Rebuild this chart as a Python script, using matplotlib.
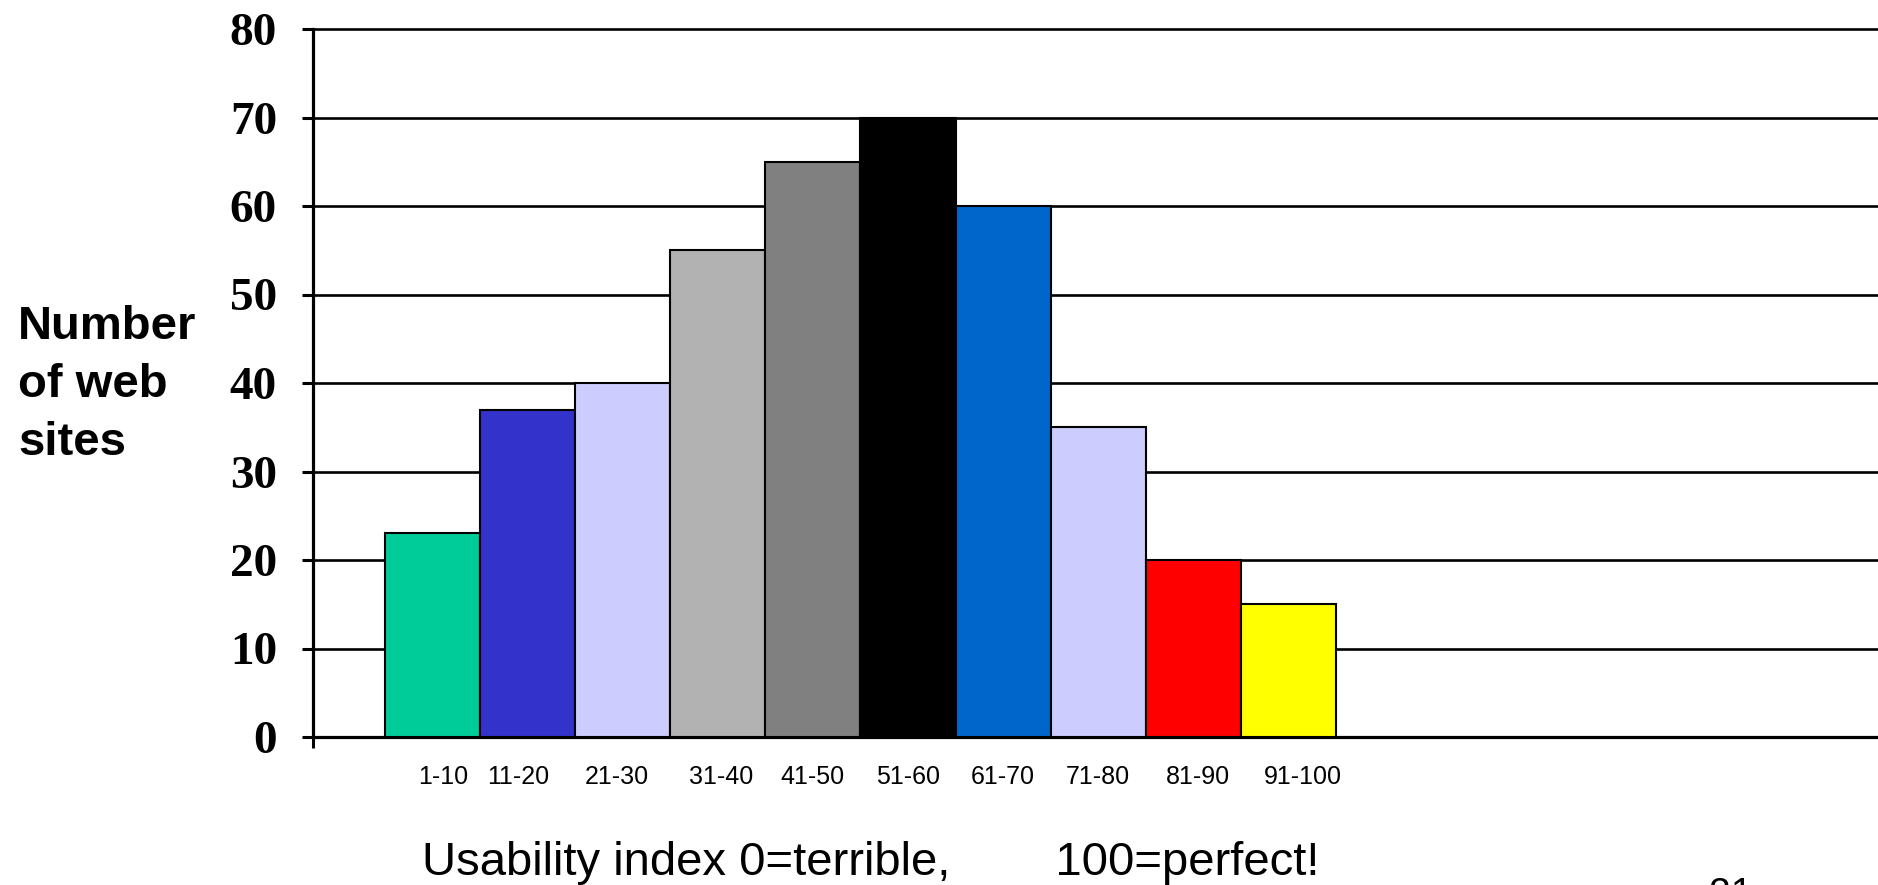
import matplotlib
matplotlib.use("Agg")
import matplotlib.pyplot as plt
from matplotlib.transforms import ScaledTranslation

categories = ["1-10", "11-20", "21-30", "31-40", "41-50", "51-60",
              "61-70", "71-80", "81-90", "91-100"]
values = [23, 37, 40, 55, 65, 70, 60, 35, 20, 15]
colors = ["#00CC99", "#3333CC", "#CCCCFF", "#B2B2B2", "#808080",
          "#000000", "#0066CC", "#CCCCFF", "#FF0000", "#FFFF00"]
yticks = [0, 10, 20, 30, 40, 50, 60, 70, 80]

# small horizontal nudges (in pixels) of the category labels, as in the original slide
label_nudge_px = [11, -9, -6, 3, 0, 0, 0, 0, 5, 14]

W, H = 1878, 885
fig = plt.figure(figsize=(W / 100, H / 100), dpi=100)
ax = fig.add_axes([313 / W, 1 - 737 / H, 1 - 313 / W, (737 - 29) / H])

x = list(range(len(categories)))
ax.bar(x, values, width=1.0, color=colors, edgecolor="black", linewidth=1.5, zorder=3)

ax.set_xlim(-1.257, 15.2)
ax.set_ylim(0, 80)
ax.set_yticks(yticks)
ax.set_yticklabels([str(v) for v in yticks], fontfamily="Liberation Serif",
                   fontweight="bold", fontsize=34)
ax.yaxis.grid(True, color="black", linewidth=1.9, zorder=0)
ax.set_axisbelow(True)
for gl in ax.get_ygridlines():
    gl.set_clip_on(False)

ax.set_xticks(x)
ax.set_xticklabels(categories, fontfamily="Liberation Sans", fontsize=18)
ax.tick_params(axis="x", length=0, pad=20)
for lbl, dx in zip(ax.get_xticklabels(), label_nudge_px):
    lbl.set_transform(lbl.get_transform() + ScaledTranslation(dx / 100, 0, fig.dpi_scale_trans))
ax.set_xticks([-1.257], minor=True)
ax.tick_params(axis="x", which="minor", length=8, width=2.2, direction="out", color="black")
ax.tick_params(axis="y", length=8, width=2.2, direction="out", color="black", pad=18)

for s in ["top", "right"]:
    ax.spines[s].set_visible(False)
for s in ["left", "bottom"]:
    ax.spines[s].set_linewidth(2.3)
    ax.spines[s].set_color("black")

fig.text(18 / W, 1 - 385 / H, "Number\nof web\nsites", ha="left", va="center",
         fontfamily="Liberation Sans", fontweight="bold", fontsize=34, linespacing=1.4)

fig.text(871 / W, 1 - 875 / H, "Usability index 0=terrible,        100=perfect!",
         ha="center", va="baseline", fontfamily="Liberation Sans", fontsize=34)

fig.text(1731 / W, 1 - 877 / H, "21", ha="center", va="top",
         fontfamily="Liberation Sans", fontsize=28)

fig.savefig("out.png", dpi=100)
